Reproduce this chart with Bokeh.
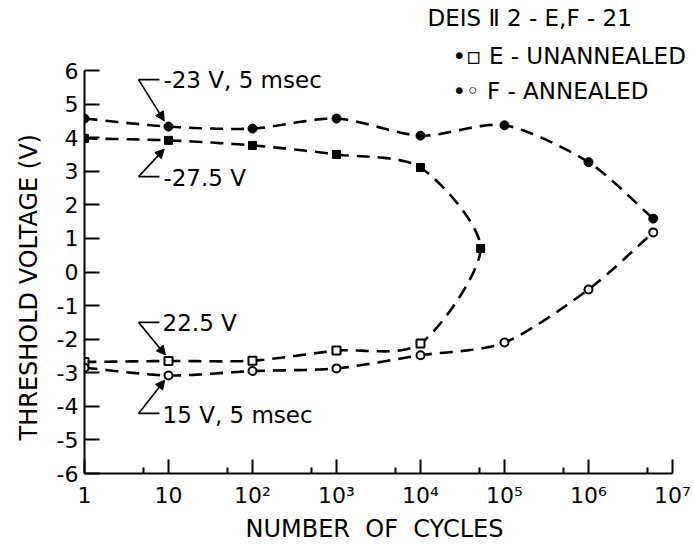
import numpy as np
from bokeh.plotting import figure
from bokeh.models import Range1d, FixedTicker, Label, Arrow, NormalHead, Title
from bokeh.embed import file_html
from bokeh.resources import INLINE

# ---- data ----
cycles_E_written = [1, 10, 100, 1000, 1e4, 5.2e4]
vt_E_written = [3.98, 3.92, 3.77, 3.50, 3.11, 0.70]
cycles_E_erased = [1, 10, 100, 1000, 1e4]
vt_E_erased = [-2.68, -2.65, -2.64, -2.34, -2.13]
cycles_F_written = [1, 10, 100, 1000, 1e4, 1e5, 1e6, 5.9e6]
vt_F_written = [4.57, 4.33, 4.27, 4.57, 4.06, 4.37, 3.27, 1.59]
cycles_F_erased = [1, 10, 100, 1000, 1e4, 1e5, 1e6, 5.9e6]
vt_F_erased = [-2.85, -3.08, -2.95, -2.87, -2.48, -2.10, -0.52, 1.18]

x_major = [1, 10, 100, 1000, 10000, 100000, 1000000, 10000000]
x_minor = [5, 50, 500, 5000, 50000, 500000, 5000000]
x_labels = ["1", "10", "10²", "10³", "10⁴", "10⁵", "10⁶", "10⁷"]
y_major = [-6, -5, -4, -3, -2, -1, 0, 1, 2, 3, 4, 5, 6]

FONT = "DejaVu Sans"


def smooth(xs, ys, n=20, k=0.4):
    """Cardinal spline through the points in (log10 x, y) space."""
    P = np.column_stack([np.log10(np.asarray(xs, float)), np.asarray(ys, float)])
    P = np.vstack([2 * P[0] - P[1], P, 2 * P[-1] - P[-2]])
    t = np.linspace(0, 1, n, endpoint=False)[:, None]
    h00 = 2 * t ** 3 - 3 * t ** 2 + 1
    h10 = t ** 3 - 2 * t ** 2 + t
    h01 = -2 * t ** 3 + 3 * t ** 2
    h11 = t ** 3 - t ** 2
    segs = []
    for i in range(1, len(P) - 2):
        p0, p1, p2, p3 = P[i - 1], P[i], P[i + 1], P[i + 2]
        m1 = k * (p2 - p0)
        m2 = k * (p3 - p1)
        segs.append(h00 * p1 + h10 * m1 + h01 * p2 + h11 * m2)
    segs.append(P[-2][None, :])
    S = np.vstack(segs)
    return 10 ** S[:, 0], S[:, 1]


p = figure(width=694, height=546, x_axis_type="log",
           x_range=Range1d(1, 10 ** 7.262), y_range=Range1d(-6, 8.085),
           output_backend="svg", toolbar_location=None,
           min_border_left=84, min_border_right=0, min_border_top=0,
           min_border_bottom=73)
p.xgrid.visible = False
p.ygrid.visible = False
p.outline_line_color = None
p.background_fill_color = "white"
p.border_fill_color = "white"

# curves
dash = dict(line_dash="13 8", line_width=2.6, line_color="black")
ex, ey = smooth(cycles_E_written + cycles_E_erased[::-1],
                vt_E_written + vt_E_erased[::-1])
p.line(ex, ey, **dash)
fx1, fy1 = smooth(cycles_F_written, vt_F_written)
p.line(fx1, fy1, **dash)
fx2, fy2 = smooth(cycles_F_erased, vt_F_erased)
p.line(fx2, fy2, **dash)

# markers
p.scatter(cycles_E_written, vt_E_written, marker="square", size=8,
          fill_color="black", line_color="black")
p.scatter(cycles_E_erased, vt_E_erased, marker="square", size=8,
          fill_color="white", line_color="black", line_width=2)
p.scatter(cycles_F_written, vt_F_written, marker="circle", size=9,
          fill_color="black", line_color="black")
p.scatter(cycles_F_erased, vt_F_erased, marker="circle", size=8,
          fill_color="white", line_color="black", line_width=2)

# axes
for ax in (p.xaxis[0], p.yaxis[0]):
    ax.axis_line_width = 2
    ax.major_tick_line_width = 2
    ax.minor_tick_line_width = 2
    ax.major_tick_out = 0
    ax.minor_tick_out = 0
    ax.major_label_text_font = FONT
    ax.major_label_text_font_size = "22px"
    ax.major_label_text_color = "black"

xa = p.xaxis[0]
xa.ticker = FixedTicker(ticks=x_major, minor_ticks=x_minor)
xa.major_label_overrides = dict(zip(x_major, x_labels))
xa.bounds = (1, 1e7)
xa.major_tick_in = 14
xa.minor_tick_in = 6
xa.major_label_standoff = 9

ya = p.yaxis[0]
ya.ticker = FixedTicker(ticks=y_major, minor_ticks=[])
ya.major_label_overrides = {v: str(v) for v in y_major}
ya.bounds = (-6, 6)
ya.major_tick_in = 15
ya.minor_tick_in = 0
ya.major_label_standoff = 6

# axis titles (as side-panel titles so they can be offset along the axis)
p.add_layout(Title(text="THRESHOLD VOLTAGE (V)", align="left", offset=33,
                   text_font=FONT, text_font_size="24px",
                   text_font_style="normal", text_color="black",
                   standoff=21), "left")
p.add_layout(Title(text="NUMBER \u00a0OF \u00a0CYCLES", align="left", offset=161,
                   text_font=FONT, text_font_size="24px",
                   text_font_style="normal", text_color="black",
                   standoff=5), "below")


# annotations
def label(x, y, text, size="23px"):
    p.add_layout(Label(x=x, y=y, text=text, text_font=FONT, text_font_size=size,
                       text_baseline="middle", text_align="left",
                       text_color="black"))


def leader(xt, yt, xa_, ya_, xb, yb):
    p.add_layout(Arrow(end=None, x_start=xa_, y_start=yt, x_end=xt, y_end=yt,
                       line_width=1.6, line_color="black"))
    p.add_layout(Arrow(end=NormalHead(size=9, fill_color="black",
                                      line_color="black", line_width=1),
                       x_start=xa_, y_start=ya_, x_end=xb, y_end=yb,
                       line_width=1.6, line_color="black"))


label(8.7, 5.73, "-23 V, 5 msec")
leader(7.8, 5.73, 4.4, 5.73, 8.9, 4.50)
label(8.7, 2.81, "-27.5 V")
leader(7.8, 2.84, 4.4, 2.84, 8.9, 3.66)
label(8.5, -1.53, "22.5 V")
leader(7.8, -1.50, 4.4, -1.50, 9.2, -2.47)
label(8.5, -4.27, "15 V, 5 msec")
leader(7.8, -4.21, 4.4, -4.21, 9.0, -3.22)

label(1.21e4, 7.55, "DEIS Ⅱ 2 - E,F - 21")
label(2.4e4, 6.42, "•▫ E - UNANNEALED")
label(2.4e4, 5.38, "•◦ F - ANNEALED")

open("out.html", "w").write(file_html(p, INLINE))
